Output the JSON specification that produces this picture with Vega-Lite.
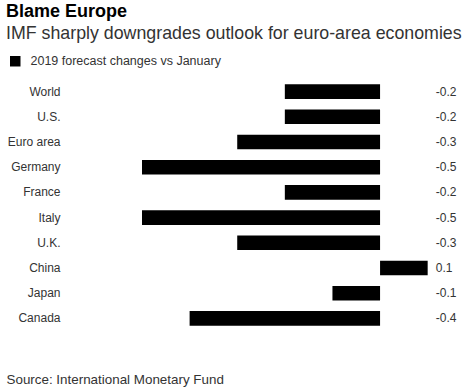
{
  "$schema": "https://vega.github.io/schema/vega-lite/v6.json",
  "autosize": "none",
  "width": 319,
  "height": 252,
  "padding": {"left": 142, "top": 79, "right": 9, "bottom": 59},
  "background": "white",
  "config": {
    "view": {"stroke": null},
    "font": "Liberation Sans"
  },
  "title": {
    "text": "Blame Europe",
    "subtitle": "IMF sharply downgrades outlook for euro-area economies",
    "anchor": "start",
    "frame": "group",
    "dx": -136,
    "fontSize": 18,
    "fontWeight": "bold",
    "color": "#000",
    "subtitleFontSize": 17.8,
    "subtitleColor": "#333",
    "subtitlePadding": 4,
    "offset": 12
  },
  "data": {
    "values": [
      {"country": "World", "value": -0.2, "series": "2019 forecast changes vs January"},
      {"country": "U.S.", "value": -0.2, "series": "2019 forecast changes vs January"},
      {"country": "Euro area", "value": -0.3, "series": "2019 forecast changes vs January"},
      {"country": "Germany", "value": -0.5, "series": "2019 forecast changes vs January"},
      {"country": "France", "value": -0.2, "series": "2019 forecast changes vs January"},
      {"country": "Italy", "value": -0.5, "series": "2019 forecast changes vs January"},
      {"country": "U.K.", "value": -0.3, "series": "2019 forecast changes vs January"},
      {"country": "China", "value": 0.1, "series": "2019 forecast changes vs January"},
      {"country": "Japan", "value": -0.1, "series": "2019 forecast changes vs January"},
      {"country": "Canada", "value": -0.4, "series": "2019 forecast changes vs January"}
    ]
  },
  "encoding": {
    "y": {
      "field": "country",
      "type": "nominal",
      "sort": null,
      "scale": {"paddingInner": 0.42, "paddingOuter": 0.21},
      "axis": {
        "title": null,
        "domain": false,
        "ticks": false,
        "tickSize": 0,
        "labelPadding": 82,
        "labelFontSize": 12,
        "labelColor": "#333",
        "labelAlign": "right"
      }
    }
  },
  "layer": [
    {
      "mark": {"type": "bar"},
      "encoding": {
        "x": {
          "field": "value",
          "type": "quantitative",
          "scale": {"domain": [-0.5, 0.17], "nice": false, "zero": true},
          "axis": {
            "labels": false,
            "ticks": false,
            "domain": false,
            "grid": false,
            "title": "Source: International Monetary Fund",
            "titleAnchor": "start",
            "titleAlign": "left",
            "titleX": -136,
            "titleY": 52.3,
            "titleBaseline": "alphabetic",
            "titleFontSize": 13.4,
            "titleFontWeight": "normal",
            "titleColor": "#333"
          }
        },
        "color": {
          "field": "series",
          "type": "nominal",
          "scale": {"range": ["#000000"]},
          "legend": {
            "title": null,
            "orient": "none",
            "legendX": -133,
            "legendY": -24,
            "symbolType": "square",
            "symbolSize": 110,
            "symbolStrokeWidth": 0,
            "labelFontSize": 12.5,
            "labelColor": "#333",
            "labelOffset": 9,
            "labelLimit": 400,
            "padding": 0
          }
        }
      }
    },
    {
      "mark": {"type": "text", "align": "left", "baseline": "middle", "fontSize": 12, "color": "#333"},
      "encoding": {
        "x": {"datum": 0.117, "type": "quantitative"},
        "text": {"field": "value", "type": "nominal"}
      }
    }
  ]
}
